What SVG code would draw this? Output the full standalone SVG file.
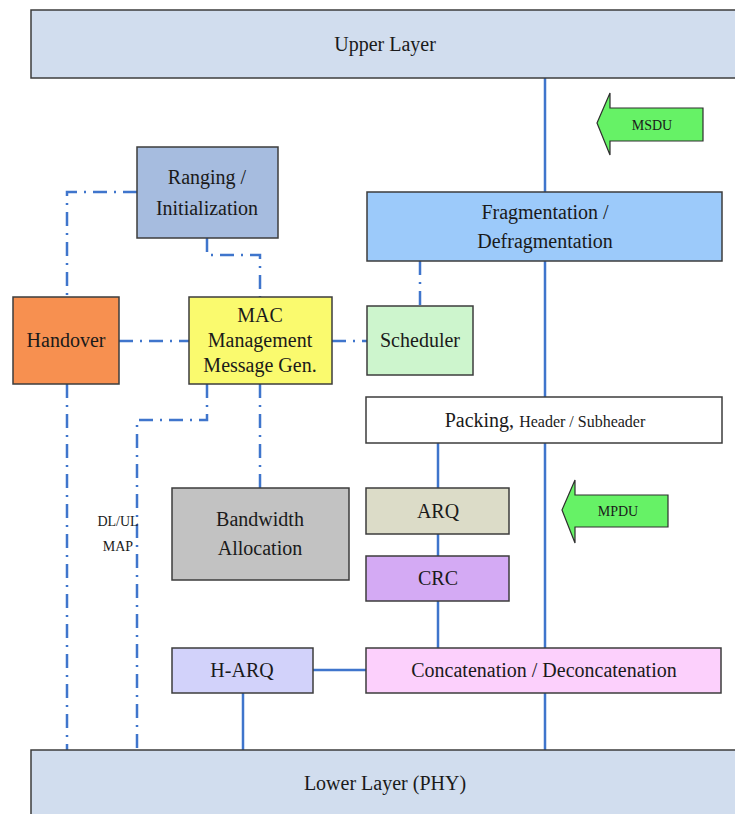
<svg xmlns="http://www.w3.org/2000/svg" width="735" height="814" viewBox="0 0 735 814">
  <style>
    .box { stroke: #3c3c3c; stroke-width: 1.5; }
    .lbl { font-family: "Liberation Serif", "Times New Roman", serif; font-size: 20px; fill: #1a1a1a; text-anchor: middle; }
    .small { font-family: "Liberation Serif", "Times New Roman", serif; font-size: 14px; fill: #1a1a1a; text-anchor: middle; }
    .solid { stroke: #3f75cc; stroke-width: 2.5; fill: none; }
    .dashdot { stroke: #3f75cc; stroke-width: 2.5; fill: none; stroke-dasharray: 14 7 2 7; }
    .arrow { fill: #66f266; stroke: #2e2e2e; stroke-width: 1.2; }
  </style>
  <rect width="735" height="814" fill="#ffffff"/>

  <!-- connectors -->
  <g id="connectors">
    <line class="solid" x1="545" y1="78" x2="545" y2="750"/>
    <line class="solid" x1="438" y1="443" x2="438" y2="648"/>
    <line class="solid" x1="313" y1="670" x2="366" y2="670"/>
    <line class="solid" x1="243" y1="693" x2="243" y2="750"/>
    <polyline class="dashdot" points="137,192 67,192 67,297"/>
    <polyline class="dashdot" points="207,238 207,255 260,255 260,297"/>
    <line class="dashdot" x1="119" y1="341" x2="189" y2="341"/>
    <line class="dashdot" x1="332" y1="341" x2="367" y2="341"/>
    <line class="dashdot" x1="420" y1="261" x2="420" y2="306"/>
    <line class="dashdot" x1="67" y1="384" x2="67" y2="750"/>
    <polyline class="dashdot" points="207,384 207,420 137,420 137,750"/>
    <line class="dashdot" x1="260" y1="384" x2="260" y2="488"/>
  </g>

  <g id="upper-layer">
    <rect class="box" x="31" y="10" width="710" height="68" fill="#d1ddee"/>
    <text class="lbl" x="385" y="51">Upper Layer</text>
  </g>

  <g id="msdu">
    <polygon class="arrow" points="597,123 610,93 610,108 703,108 703,141 610,141 610,155"/>
    <text class="small" x="652" y="130">MSDU</text>
  </g>

  <g id="ranging">
    <rect class="box" x="137" y="147" width="141" height="91" fill="#a6bcdf"/>
    <text class="lbl" x="207" y="184">Ranging /</text>
    <text class="lbl" x="207" y="215">Initialization</text>
  </g>

  <g id="fragmentation">
    <rect class="box" x="367" y="192" width="355" height="69" fill="#9ccafa"/>
    <text class="lbl" x="545" y="219">Fragmentation /</text>
    <text class="lbl" x="545" y="248">Defragmentation</text>
  </g>

  <g id="handover">
    <rect class="box" x="13" y="297" width="106" height="87" fill="#f79050"/>
    <text class="lbl" x="66" y="347">Handover</text>
  </g>

  <g id="mac-mgmt">
    <rect class="box" x="189" y="297" width="143" height="87" fill="#fafa6e"/>
    <text class="lbl" x="260" y="322">MAC</text>
    <text class="lbl" x="260" y="347">Management</text>
    <text class="lbl" x="260" y="372">Message Gen.</text>
  </g>

  <g id="scheduler">
    <rect class="box" x="367" y="306" width="106" height="69" fill="#cdf5cd"/>
    <text class="lbl" x="420" y="347">Scheduler</text>
  </g>

  <g id="packing">
    <rect class="box" x="366" y="397" width="356" height="46" fill="#ffffff"/>
    <text class="lbl" x="545" y="427"><tspan>Packing, </tspan><tspan font-size="16">Header / Subheader</tspan></text>
  </g>

  <g id="bandwidth">
    <rect class="box" x="172" y="488" width="177" height="92" fill="#c2c2c2"/>
    <text class="lbl" x="260" y="526">Bandwidth</text>
    <text class="lbl" x="260" y="555">Allocation</text>
  </g>

  <g id="dl-ul-map">
    <text class="small" x="118" y="526">DL/UL</text>
    <text class="small" x="118" y="551">MAP</text>
  </g>

  <g id="arq">
    <rect class="box" x="366" y="488" width="143" height="46" fill="#dcdcc8"/>
    <text class="lbl" x="438" y="518">ARQ</text>
  </g>

  <g id="mpdu">
    <polygon class="arrow" points="562,510 575,480 575,495 668,495 668,527 575,527 575,543"/>
    <text class="small" x="618" y="516">MPDU</text>
  </g>

  <g id="crc">
    <rect class="box" x="366" y="556" width="143" height="45" fill="#d4aaf4"/>
    <text class="lbl" x="438" y="585">CRC</text>
  </g>

  <g id="harq">
    <rect class="box" x="172" y="648" width="141" height="45" fill="#d2d2fa"/>
    <text class="lbl" x="242" y="677">H-ARQ</text>
  </g>

  <g id="concatenation">
    <rect class="box" x="366" y="648" width="355" height="45" fill="#fcd0fc"/>
    <text class="lbl" x="544" y="677">Concatenation / Deconcatenation</text>
  </g>

  <g id="lower-layer">
    <rect class="box" x="31" y="750" width="710" height="70" fill="#d1ddee"/>
    <text class="lbl" x="385" y="790">Lower Layer (PHY)</text>
  </g>
</svg>
